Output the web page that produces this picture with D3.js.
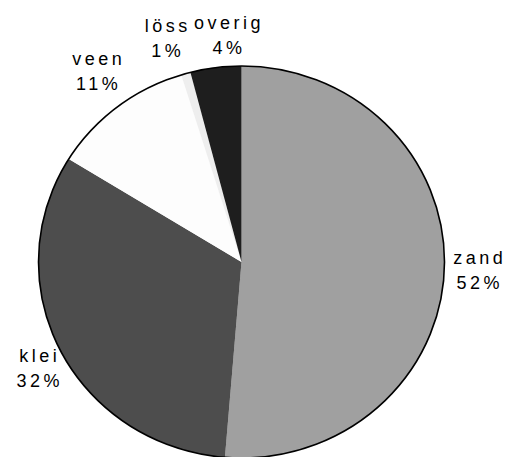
<!DOCTYPE html>
<html>
<head>
<meta charset="utf-8">
<script src="https://cdn.jsdelivr.net/npm/d3@7.9.0/dist/d3.min.js"></script>
<style>
  html, body { margin: 0; padding: 0; background: #fff; }
  svg { display: block; }
  .label { font-family: "Liberation Sans", Arial, sans-serif; font-size: 18px; letter-spacing: 3.5px; fill: #000; }
</style>
</head>
<body>
<svg width="507" height="457"></svg>
<script>
// soil types (share of area, %)
const categories = ['zand', 'klei', 'veen', 'löss', 'overig'];
const values = [51.3, 32.5, 11.4, 0.75, 4.05];
const percentLabels = ['52%', '32%', '11%', '1%', '4%'];

const colors = ['#a0a0a0', '#4d4d4d', '#fdfdfd', '#eeeeee', '#1e1e1e'];

const cx = 241.5, cy = 262, rx = 203, ry = 196;

const svg = d3.select('svg');

const pie = d3.pie().sort(null).value(d => d);
const arcData = pie(values);
const arcGen = d3.arc().innerRadius(0).outerRadius(rx);

// pie is slightly squashed vertically
const g = svg.append('g')
    .attr('transform', `translate(${cx},${cy}) scale(1,${ry / rx})`);

g.selectAll('path.slice')
    .data(arcData)
    .join('path')
    .attr('class', 'slice')
    .attr('d', arcGen)
    .attr('fill', (d, i) => colors[i]);

g.append('circle')
    .attr('r', rx)
    .attr('fill', 'none')
    .attr('stroke', '#000')
    .attr('stroke-width', 1.6)
    .attr('vector-effect', 'non-scaling-stroke');

// labels outside the pie, Excel-ish placement (nudged like the original)
const labelK = 1.18;
const nudge = [[-3, -3], [10, 0], [2, -10], [-10, -4], [16, 0]];

arcData.forEach((d, i) => {
    const a = (d.startAngle + d.endAngle) / 2;
    const x = cx + Math.sin(a) * rx * labelK + nudge[i][0];
    const y = cy - Math.cos(a) * ry * labelK + nudge[i][1];
    const t = svg.append('text')
        .attr('class', 'label')
        .attr('text-anchor', 'middle')
        .attr('transform', `translate(${x},${y})`);
    t.append('tspan').attr('x', 2).attr('y', -4).text(categories[i]);
    t.append('tspan').attr('x', 2).attr('y', 21).text(percentLabels[i]);
});
</script>
</body>
</html>
